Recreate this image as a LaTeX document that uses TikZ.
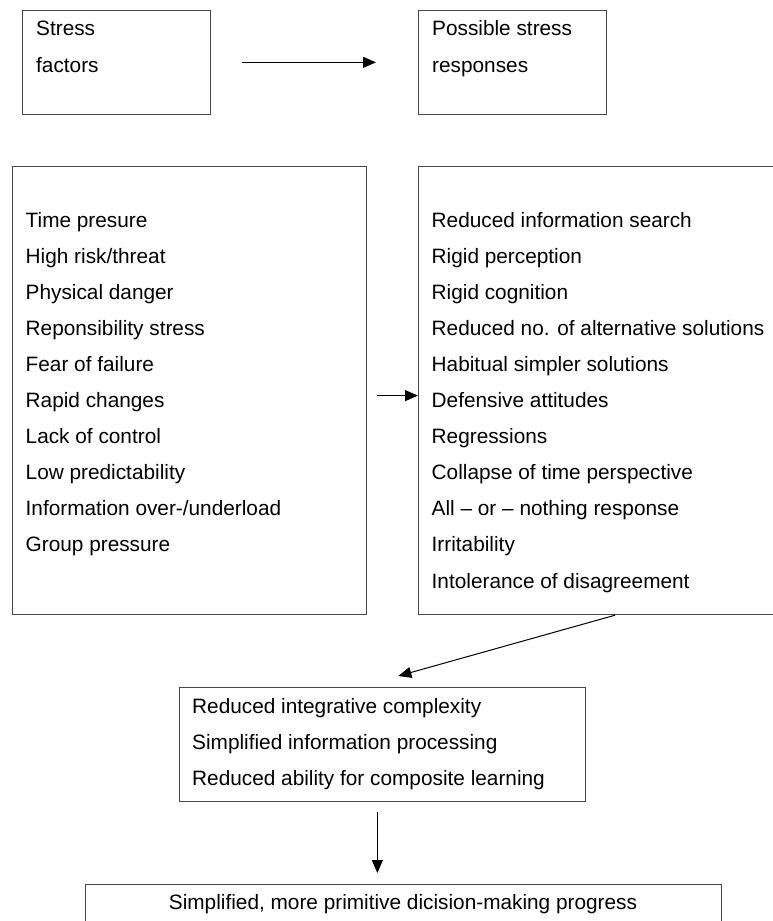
\documentclass[tikz,border=0pt]{standalone}
\usepackage{fontspec}
\setmainfont{Liberation Sans}
\usetikzlibrary{arrows.meta,calc}
\begin{document}
\begin{tikzpicture}[x=1pt,y=-1pt,
  box/.style={draw=black!72,line width=1.2pt,inner sep=0pt,anchor=north west},
  txt/.style={anchor=base west,inner sep=0pt,font=\fontsize{20.8}{25}\selectfont},
  arr/.style={-{Triangle[length=13pt,width=11pt]},line width=1pt,draw=black}]
\useasboundingbox (0,0) rectangle (773,921);
\clip (0,0) rectangle (773,921);
% boxes
\node[box,minimum width=188pt,minimum height=104.5pt] (sf) at (22,9.5) {};
\node[box,minimum width=188pt,minimum height=104.5pt] (ps) at (418,9.5) {};
\node[box,minimum width=354pt,minimum height=448pt] (lf) at (12,166) {};
\node[box,minimum width=367pt,minimum height=448pt] (rb) at (418,166) {};
\node[box,minimum width=406.5pt,minimum height=114pt] (mid) at (178.5,687) {};
\node[box,minimum width=636pt,minimum height=80pt] (bt) at (85,884) {};
% texts
\node[txt] (sf1) at (36,35) {Stress};
\node[txt] (sf2) at (36,72) {factors};
\node[txt] (ps1) at (432,35) {Possible stress};
\node[txt] (ps2) at (432,72) {responses};
\foreach [count=\i] \t in {Time presure,High risk/threat,Physical danger,Reponsibility stress,Fear of failure,Rapid changes,Lack of control,Low predictability,Information over-/underload,Group pressure}
  \node[txt] (lf-\i) at (25.5,{227+36.1*(\i-1)}) {\t};
\foreach [count=\i] \t in {Reduced information search,Rigid perception,Rigid cognition,Reduced no. of alternative solutions,Habitual simpler solutions,Defensive attitudes,Regressions,Collapse of time perspective,All -- or -- nothing response,Irritability,Intolerance of disagreement}
  \node[txt] (rb-\i) at (431.5,{227+36.1*(\i-1)}) {\t};
\node[txt] (m1) at (192,713) {Reduced integrative complexity};
\node[txt] (m2) at (192,749) {Simplified information processing};
\node[txt] (m3) at (192,785) {Reduced ability for composite learning};
\node[txt,anchor=base] (b1) at (403,909) {Simplified, more primitive dicision-making progress};
% arrows
\draw[arr] ([xshift=31pt]sf.east) -- ([xshift=-42pt]ps.west);
\draw[arr] ([xshift=10pt,yshift=-5pt]lf.east) -- ([yshift=-5pt]rb.west);
\draw[arr] ([xshift=197pt]rb.south west) -- ([xshift=16pt,yshift=11pt]mid.north);
\coordinate (d1) at ([xshift=-5pt,yshift=-10pt]mid.south);
\draw[arr] (d1) -- ($(d1 |- bt.north)+(0,-11)$);
\end{tikzpicture}
\end{document}
